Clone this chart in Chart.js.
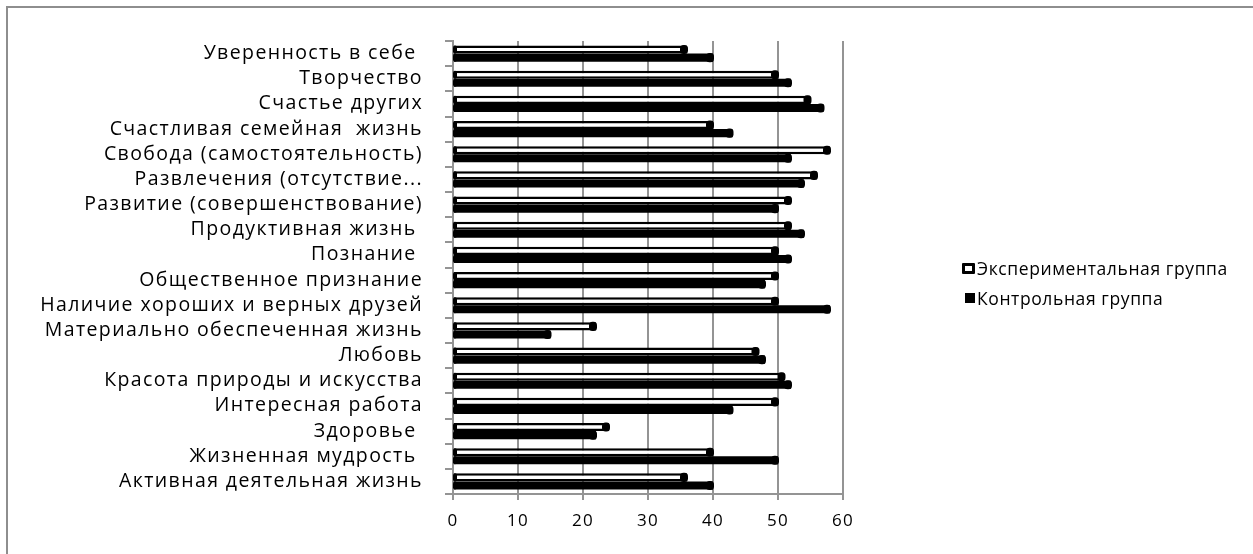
<!DOCTYPE html>
<html>
<head>
<meta charset="utf-8">
<script src="https://cdn.jsdelivr.net/npm/chart.js@4"></script>
<style>
  html, body { margin: 0; padding: 0; background: #fff; }
  #wrap { position: relative; width: 1253px; height: 554px; overflow: hidden; }
  #frame { position: absolute; left: 6px; top: 6px; width: 1400px; height: 700px;
           border-left: 2px solid #8e8e8e; border-top: 2px solid #8e8e8e; pointer-events: none; }
  #legend { position: absolute; left: 962px; top: 253px; font-family: "Open Sans", sans-serif;
            font-size: 17.5px; letter-spacing: 0.6px; color: #000; }
  .item { display: flex; align-items: center; height: 30px; white-space: nowrap; }
  .sw { box-sizing: border-box; margin-right: 2px; }
</style>
</head>
<body>
<div id="wrap">
  <canvas id="c" width="1253" height="554"></canvas>
  <div id="legend"></div>
  <div id="frame"></div>
</div>
<script>
// Terminal values, listed top to bottom
const categories = [
  "Уверенность в себе ",
  "Творчество",
  "Счастье других",
  "Счастливая семейная  жизнь",
  "Свобода (самостоятельность)",
  "Развлечения (отсутствие...",
  "Развитие (совершенствование)",
  "Продуктивная жизнь ",
  "Познание ",
  "Общественное признание",
  "Наличие хороших и верных друзей",
  "Материально обеспеченная жизнь",
  "Любовь",
  "Красота природы и искусства",
  "Интересная работа",
  "Здоровье ",
  "Жизненная мудрость ",
  "Активная деятельная жизнь"
];
const experimentalGroup = [36, 50, 55, 40, 58, 56, 52, 52, 50, 50, 50, 22, 47, 51, 50, 24, 40, 36];
const controlGroup      = [40, 52, 57, 43, 52, 54, 50, 54, 52, 48, 58, 15, 48, 52, 43, 22, 50, 40];
const xTickValues = [0, 10, 20, 30, 40, 50, 60];
const seriesNames = ["Экспериментальная группа", "Контрольная группа"];

// Dark rounded end caps on every bar
const barCaps = {
  id: 'barCaps',
  afterDatasetsDraw(chart) {
    const ctx = chart.ctx;
    chart.data.datasets.forEach((ds, i) => {
      const meta = chart.getDatasetMeta(i);
      meta.data.forEach(bar => {
        const p = bar.getProps(['x', 'y', 'height', 'base'], true);
        ctx.save();
        ctx.fillStyle = '#000';
        ctx.beginPath();
        ctx.roundRect(p.x - 7, p.y - p.height / 2 - 0.5, 8, p.height + 1, 3.5);
        ctx.fill();
        ctx.beginPath();
        ctx.roundRect(p.base - 1, p.y - p.height / 2, 4, p.height, 2);
        ctx.fill();
        ctx.restore();
      });
    });
  }
};

// Slightly wider text spacing for axis labels
const textSpacing = {
  id: 'textSpacing',
  beforeDraw(chart) { chart.ctx.letterSpacing = '1.4px'; }
};

new Chart(document.getElementById('c'), {
  type: 'bar',
  data: {
    labels: categories,
    datasets: [
      {
        label: seriesNames[0],
        data: experimentalGroup,
        backgroundColor: '#ffffff',
        borderColor: '#000000',
        borderWidth: 2.5,
        borderSkipped: false
      },
      {
        label: seriesNames[1],
        data: controlGroup,
        backgroundColor: '#000000',
        borderColor: '#000000',
        borderWidth: 0
      }
    ]
  },
  options: {
    indexAxis: 'y',
    responsive: false,
    animation: false,
    events: [],
    categoryPercentage: 0.64,
    barPercentage: 1.0,
    layout: { padding: { left: 0, top: 41, right: 410, bottom: 0 } },
    plugins: { legend: { display: false }, tooltip: { enabled: false } },
    scales: {
      x: {
        min: xTickValues[0],
        max: xTickValues[xTickValues.length - 1],
        afterBuildTicks(scale) { scale.ticks = xTickValues.map(v => ({ value: v })); },
        afterFit(scale) { scale.height = 60; },
        grid: { color: '#949494', lineWidth: 2, tickLength: 6, drawTicks: true },
        border: { color: '#949494', width: 2 },
        ticks: { color: '#000', padding: 11, font: { family: 'Open Sans', size: 17 } }
      },
      y: {
        afterFit(scale) { scale.width = 453; },
        grid: { display: true, drawOnChartArea: false, offset: true, tickLength: 8, color: '#949494', lineWidth: 2 },
        border: { color: '#949494', width: 2 },
        ticks: { color: '#000', padding: 22, autoSkip: false, font: { family: 'Open Sans', size: 19.5 } }
      }
    }
  },
  plugins: [barCaps, textSpacing]
});

// Legend
const legend = document.getElementById('legend');
seriesNames.forEach((name, i) => {
  const item = document.createElement('div');
  item.className = 'item';
  const sw = document.createElement('span');
  sw.className = 'sw';
  if (i === 0) {
    sw.style.cssText = 'display:inline-block;width:13px;height:11px;border:3px solid #000;background:#fff;border-radius:1px;';
  } else {
    sw.style.cssText = 'display:inline-block;width:10px;height:10px;background:#000;margin-left:3px;';
  }
  item.appendChild(sw);
  item.appendChild(document.createTextNode(name));
  legend.appendChild(item);
});
</script>
</body>
</html>
